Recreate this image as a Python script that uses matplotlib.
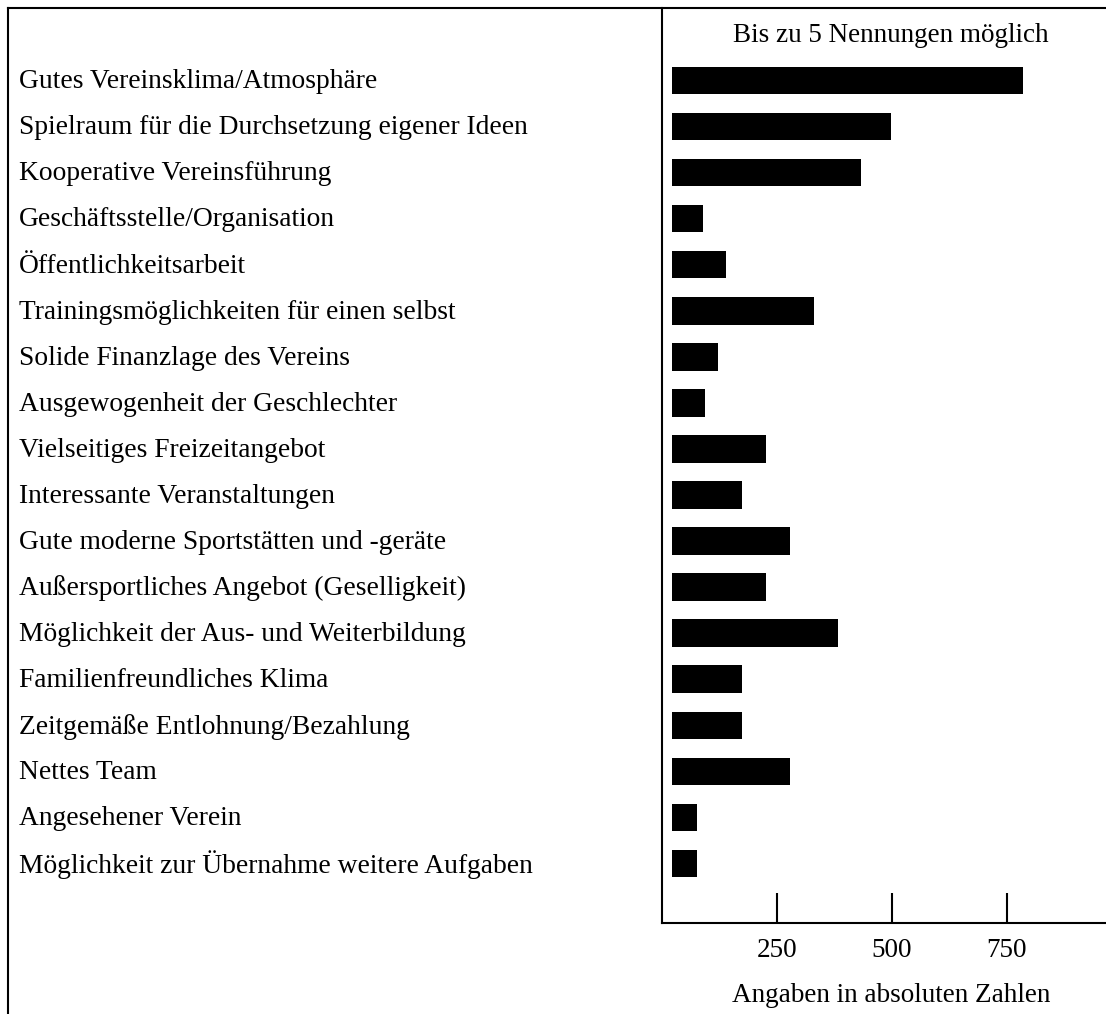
import matplotlib
matplotlib.use("Agg")
import matplotlib.pyplot as plt
import matplotlib.transforms as mtransforms
from matplotlib.lines import Line2D

categories = [
    "Gutes Vereinsklima/Atmosphäre",
    "Spielraum für die Durchsetzung eigener Ideen",
    "Kooperative Vereinsführung",
    "Geschäftsstelle/Organisation",
    "Öffentlichkeitsarbeit",
    "Trainingsmöglichkeiten für einen selbst",
    "Solide Finanzlage des Vereins",
    "Ausgewogenheit der Geschlechter",
    "Vielseitiges Freizeitangebot",
    "Interessante Veranstaltungen",
    "Gute moderne Sportstätten und -geräte",
    "Außersportliches Angebot (Geselligkeit)",
    "Möglichkeit der Aus- und Weiterbildung",
    "Familienfreundliches Klima",
    "Zeitgemäße Entlohnung/Bezahlung",
    "Nettes Team",
    "Angesehener Verein",
    "Möglichkeit zur Übernahme weitere Aufgaben",
]
values = [785, 498, 433, 90, 140, 331, 122, 93, 227, 175, 279, 227, 383, 175, 175, 279, 77, 77]
xticks = [250, 500, 750]
xtick_labels = ["250", "500", "750"]
title_text = "Bis zu 5 Nennungen möglich"
xlabel_text = "Angaben in absoluten Zahlen"

BAR_START = 22
FS = 19.5
FS_LAB = 19.8

plt.rcParams['font.family'] = ['Liberation Serif', 'DejaVu Serif']

W, H = 1106, 1014
fig = plt.figure(figsize=(W / 100, H / 100), dpi=100)
ax = fig.add_axes([662 / W, 1 - 923 / H, 1 - 662 / W, (923 - 8) / H])

ypos = list(range(len(categories)))
widths = [v - BAR_START for v in values]
ax.barh(ypos, widths, left=BAR_START, height=0.6, color="black")

ax.set_xlim(0, 966)
ax.set_ylim(18.29, -1.57)

for s in ["top", "right"]:
    ax.spines[s].set_visible(False)
for s in ["left", "bottom"]:
    ax.spines[s].set_linewidth(1.5)

ax.set_yticks([])
ax.set_xticks(xticks)
ax.set_xticklabels(xtick_labels)
ax.tick_params(axis="x", direction="in", length=21.5, width=1.5, pad=10.5, labelsize=FS)

trans = mtransforms.blended_transform_factory(fig.transFigure, ax.transData)
for y, c in zip(ypos, categories):
    ax.text(19 / W, y + 0.03, c, transform=trans, ha="left", va="center", fontsize=FS_LAB, clip_on=False)

fig.text(891 / W, 1 - 36 / H, title_text, ha="center", va="center", fontsize=FS)
fig.text(891 / W, 1 - 996 / H, xlabel_text, ha="center", va="center", fontsize=FS)

# outer frame (top and left edges)
fig.add_artist(Line2D([7.5 / W, 1], [1 - 7.5 / H, 1 - 7.5 / H], transform=fig.transFigure, color="black", lw=1.5))
fig.add_artist(Line2D([7.5 / W, 7.5 / W], [1 - 7.5 / H, 0], transform=fig.transFigure, color="black", lw=1.5))

fig.savefig("out.png", dpi=100, facecolor="white")
